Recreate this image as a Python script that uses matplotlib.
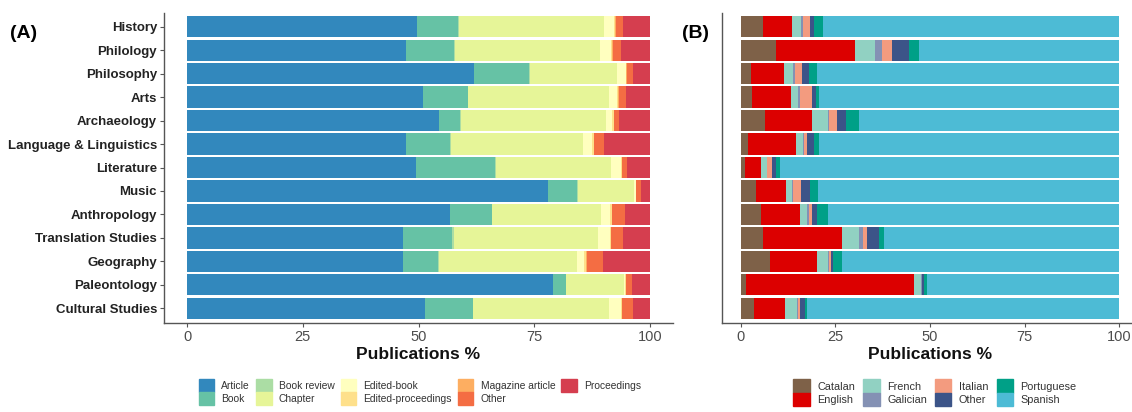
import numpy as np
from matplotlib import pyplot as plt
from matplotlib.patches import Patch

plt.rcParams['font.family'] = ['Liberation Sans', 'DejaVu Sans']

fields = ["History", "Philology", "Philosophy", "Arts", "Archaeology",
          "Language & Linguistics", "Literature", "Music", "Anthropology",
          "Translation Studies", "Geography", "Paleontology", "Cultural Studies"]

# publication types, % per field (rows follow `fields`)
pub_types = ["Article", "Book", "Book review", "Chapter", "Edited-book",
             "Edited-proceedings", "Magazine article", "Other", "Proceedings"]
article   = [49.7, 47.3, 62.1, 51.0, 54.4, 47.4, 49.5, 78.0, 56.9, 46.7, 46.6, 79.1, 51.5]
book      = [8.8, 10.4, 11.8, 9.6, 4.6, 9.5, 17.0, 6.3, 8.9, 10.5, 7.7, 2.7, 10.2]
book_rev  = [0.2, 0.2, 0.1, 0.1, 0.1, 0.2, 0.2, 0.1, 0.1, 0.5, 0.1, 0.1, 0.1]
chapter   = [31.4, 31.4, 19.0, 30.5, 31.4, 28.5, 25.0, 12.2, 23.5, 31.1, 29.8, 12.6, 29.4]
ed_book   = [2.2, 2.4, 1.8, 1.7, 1.4, 2.0, 2.0, 0.3, 2.0, 2.6, 1.5, 0.2, 2.5]
ed_proc   = [0.2, 0.2, 0.1, 0.3, 0.3, 0.3, 0.2, 0.1, 0.4, 0.2, 0.6, 0.1, 0.2]
magazine  = [0.1, 0.1, 0.2, 0.2, 0.1, 0.1, 0.1, 0.1, 0.1, 0.1, 0.2, 0.1, 0.1]
other_pub = [1.6, 1.7, 1.2, 1.4, 1.1, 2.1, 1.0, 0.9, 2.7, 2.4, 3.4, 1.3, 2.4]
proceed   = [5.8, 6.3, 3.7, 5.2, 6.6, 9.9, 5.0, 2.0, 5.4, 5.9, 10.1, 3.8, 3.6]

# publication languages, % per field
languages  = ["Catalan", "English", "French", "Galician", "Italian",
              "Other", "Portuguese", "Spanish"]
catalan    = [5.9, 9.3, 2.6, 3.0, 6.3, 1.9, 1.2, 4.0, 5.2, 5.9, 7.7, 1.3, 3.4]
english    = [7.7, 20.9, 8.9, 10.2, 12.6, 12.6, 4.2, 7.8, 10.4, 20.9, 12.5, 44.5, 8.3]
french     = [2.4, 5.2, 2.3, 2.0, 4.0, 1.8, 1.4, 1.6, 2.0, 4.5, 2.7, 1.7, 3.0]
galician   = [0.5, 1.8, 0.5, 0.5, 0.4, 0.4, 0.2, 0.4, 0.5, 1.1, 0.4, 0.3, 0.3]
italian    = [1.8, 2.8, 1.8, 3.0, 2.2, 0.8, 1.1, 2.0, 0.8, 1.0, 0.5, 0.2, 0.6]
other_lang = [1.1, 4.4, 1.8, 1.1, 2.2, 1.8, 1.3, 2.5, 1.1, 3.1, 0.6, 0.4, 1.3]
portuguese = [2.4, 2.8, 2.3, 0.9, 3.6, 1.3, 0.9, 2.2, 3.0, 1.4, 2.4, 0.9, 0.6]
spanish    = [78.2, 52.8, 79.8, 79.3, 68.7, 79.4, 89.7, 79.5, 77.0, 62.1, 73.2, 50.7, 82.5]

pub_cols = ["#3288BD", "#66C2A5", "#ABDDA4", "#E6F598", "#FFFFBF",
            "#FEE08B", "#FDAE61", "#F46D43", "#D53E4F"]
lang_cols = ["#7E6148", "#DC0000", "#91D1C2", "#8491B4", "#F39B7F",
             "#3C5488", "#00A087", "#4DBBD5"]

W, H = 1132, 412
fig = plt.figure(figsize=(W / 100, H / 100), dpi=100)

def px_axes(x0, x1, y0, y1):
    return fig.add_axes([x0 / W, 1 - y1 / H, (x1 - x0) / W, (y1 - y0) / H])

axA = px_axes(164, 673, 12.5, 322.5)
axB = px_axes(722, 1138, 12.5, 322.5)

ypos = np.arange(len(fields))[::-1] + 1


def stacked(ax, series, colors):
    left = np.zeros(len(fields))
    for vals, c in zip(series, colors):
        vals = np.array(vals)
        ax.barh(ypos, vals, left=left, height=0.9, color=c, linewidth=0)
        left += vals


stacked(axA, [article, book, book_rev, chapter, ed_book, ed_proc,
              magazine, other_pub, proceed], pub_cols)
stacked(axB, [catalan, english, french, galician, italian, other_lang,
              portuguese, spanish], lang_cols)

for ax in (axA, axB):
    ax.set_xlim(-5, 105)
    ax.set_ylim(0.4, 13.6)
    ax.set_xticks([0, 25, 50, 75, 100])
    ax.set_yticks(ypos)
    for s in ("top", "right"):
        ax.spines[s].set_visible(False)
    for s in ("left", "bottom"):
        ax.spines[s].set_color("#555555")
        ax.spines[s].set_linewidth(1.0)
    ax.tick_params(axis="x", colors="#555555", labelcolor="#4d4d4d",
                   labelsize=10.5, length=3, pad=2.5)
    ax.set_xlabel("Publications %", fontsize=12.5, fontweight="bold",
                  color="#111111", labelpad=2)

axA.tick_params(axis="y", colors="#555555", length=3, pad=2)
axA.set_yticklabels(fields, fontsize=9.5, fontweight="bold", color="#222222")
axB.tick_params(axis="y", left=False, labelleft=False)

fig.text(10 / W, 1 - 33 / H, "(A)", fontsize=14, fontweight="bold", va="center")
fig.text(682 / W, 1 - 33 / H, "(B)", fontsize=14, fontweight="bold", va="center")

leg_kw = dict(loc="upper center", frameon=False,
              handlelength=1.5, handleheight=1.5, handletextpad=0.7,
              labelspacing=0.05, borderpad=0)
legA = fig.legend([Patch(color=c) for c in pub_cols], pub_types, ncol=5,
                  bbox_to_anchor=(420 / W, 1 - 374 / H), columnspacing=0.6,
                  fontsize=7.4, **leg_kw)
legB = fig.legend([Patch(color=c) for c in lang_cols], languages, ncol=4,
                  bbox_to_anchor=(935 / W, 1 - 374 / H), columnspacing=0.75,
                  fontsize=7.8, **leg_kw)
for leg in (legA, legB):
    for t in leg.get_texts():
        t.set_color("#333333")

fig.savefig("out.png", dpi=100)
